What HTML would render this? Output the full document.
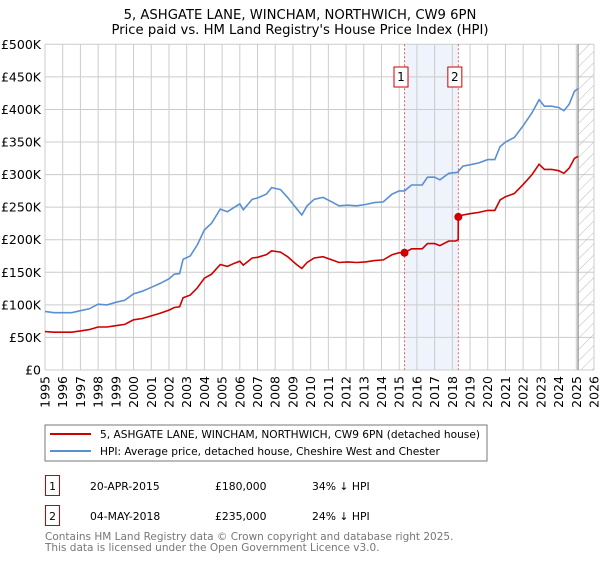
<!DOCTYPE html>
<html><head><meta charset="utf-8"><style>
body{margin:0;background:#fff;font-family:"DejaVu Sans","Liberation Sans",sans-serif}
svg text{font-family:"DejaVu Sans","Liberation Sans",sans-serif}
</style></head><body>
<svg id="c" width="600" height="560" xmlns="http://www.w3.org/2000/svg">
<defs><pattern id="h" width="8" height="8" patternUnits="userSpaceOnUse" patternTransform="rotate(45)"><line x1="0" y1="0" x2="0" y2="8" stroke="#bbb" stroke-width="1"/></pattern></defs>
<text x="300" y="19" text-anchor="middle" font-size="13.2">5, ASHGATE LANE, WINCHAM, NORTHWICH, CW9 6PN</text>
<text x="300" y="34" text-anchor="middle" font-size="13.2">Price paid vs. HM Land Registry's House Price Index (HPI)</text>
<g id="plot"></g>
<rect x="45" y="425" width="442" height="36" fill="none" stroke="#777"/>
<line x1="50" y1="434" x2="91" y2="434" stroke="#cc0000" stroke-width="2"/>
<text x="100" y="438" font-size="10.6">5, ASHGATE LANE, WINCHAM, NORTHWICH, CW9 6PN (detached house)</text>
<line x1="50" y1="451" x2="91" y2="451" stroke="#5b8fd4" stroke-width="2"/>
<text x="100" y="455" font-size="10.6">HPI: Average price, detached house, Cheshire West and Chester</text>
<g font-size="10.8">
<rect x="45.5" y="475.5" width="14" height="20" fill="none" stroke="#cc0000"/><text x="52.5" y="490" text-anchor="middle">1</text>
<text x="90" y="490">20-APR-2015</text><text x="215" y="490">£180,000</text><text x="312" y="490">34% ↓ HPI</text>
<rect x="45.5" y="505.5" width="14" height="20" fill="none" stroke="#cc0000"/><text x="52.5" y="520" text-anchor="middle">2</text>
<text x="90" y="520">04-MAY-2018</text><text x="215" y="520">£235,000</text><text x="312" y="520">24% ↓ HPI</text>
</g>
<text x="45" y="540" font-size="10.5" fill="#777">Contains HM Land Registry data © Crown copyright and database right 2025.</text>
<text x="45" y="551" font-size="10.5" fill="#777">This data is licensed under the Open Government Licence v3.0.</text>
</svg>
<script>
const dates=[1995.0,1995.5,1996.0,1996.5,1997.0,1997.5,1998.0,1998.5,1999.0,1999.5,2000.0,2000.5,2001.0,2001.5,2002.0,2002.3,2002.6,2002.8,2003.2,2003.6,2004.0,2004.4,2004.9,2005.3,2005.7,2006.0,2006.2,2006.7,2007.0,2007.5,2007.8,2008.3,2008.7,2009.2,2009.5,2009.8,2010.2,2010.7,2011.2,2011.6,2012.1,2012.6,2013.1,2013.6,2014.1,2014.6,2015.0,2015.3,2015.7,2016.3,2016.6,2017.0,2017.3,2017.8,2018.2,2018.33,2018.34,2018.6,2019.0,2019.5,2020.0,2020.4,2020.7,2021.0,2021.5,2022.0,2022.5,2022.9,2023.2,2023.6,2024.0,2024.3,2024.6,2024.9,2025.1];
const hpi=[90,88,88,88,91,94,101,100,104,107,117,121,127,133,140,147,148,170,175,192,215,225,247,243,250,255,246,262,264,270,280,277,265,248,238,252,262,265,258,252,253,252,254,257,258,270,275,275,284,284,296,296,292,302,303,304,305,313,315,318,323,323,343,350,357,375,395,415,405,405,403,398,408,428,432];
const price=[59,58,58,58,60,62,66,66,68,70,77,79,83,87,92,96,97,111,115,126,141,147,162,159,164,167,161,172,173,177,183,181,174,162,156,165,172,174,169,165,166,165,166,168,169,177,180,180,186,186,194,194,191,198,198,200,235,238,240,242,245,245,261,266,271,285,300,316,308,308,306,302,310,325,328];
const saleDates=[2015.3,2018.34];
const salePrices=[180,235];
const saleLabels=["1","2"];
const yTicks=[0,50,100,150,200,250,300,350,400,450,500];
const yTickLabels=["£0","£50K","£100K","£150K","£200K","£250K","£300K","£350K","£400K","£450K","£500K"];
const xYears=[1995,1996,1997,1998,1999,2000,2001,2002,2003,2004,2005,2006,2007,2008,2009,2010,2011,2012,2013,2014,2015,2016,2017,2018,2019,2020,2021,2022,2023,2024,2025,2026];
const X0=45,X1=594,Y0=370,Y1=44.3,NS="http://www.w3.org/2000/svg";
const xs=d=>X0+(d-1995)/(2026-1995)*(X1-X0);
const ys=v=>Y0-v/500*(Y0-Y1);
const g=document.getElementById('plot');
function mk(t,a){const e=document.createElementNS(NS,t);for(const k in a)e.setAttribute(k,a[k]);g.appendChild(e);return e;}
let e;
e=mk('rect',{x:xs(saleDates[0]),y:Y1,width:xs(saleDates[1])-xs(saleDates[0]),height:Y0-Y1,fill:'#eef3fc'});


yTicks.forEach((v,i)=>{
 e=mk('line',{x1:X0,x2:X1,y1:ys(v),y2:ys(v),stroke:'#ccc'});
 
 
 e=mk('text',{x:X0-4,y:ys(v)+4.5,'text-anchor':'end','font-size':'12.5'});e.textContent=yTickLabels[i];
 
 
});
xYears.forEach(y=>{
 e=mk('line',{x1:xs(y),x2:xs(y),y1:Y1,y2:Y0,stroke:'#ccc'});
 
 
 e=mk('text',{x:0,y:0,'text-anchor':'end','font-size':'12.5',transform:`translate(${xs(y)+4.5},${Y0+6}) rotate(-90)`});e.textContent=y;
 
 
});
e=mk('rect',{x:xs(2025.1),y:Y1,width:X1-xs(2025.1),height:Y0-Y1,fill:'url(#h)'});


e=mk('line',{x1:xs(2025.1),x2:xs(2025.1),y1:Y1,y2:Y0,stroke:'#888','stroke-width':1.2});


saleDates.forEach((d,i)=>{
 e=mk('line',{x1:xs(d),x2:xs(d),y1:Y1,y2:Y0,stroke:'#f06060','stroke-dasharray':'2,2'});
 
 
 e=mk('rect',{x:xs(d)-10.5,y:67,width:14,height:20,fill:'#fff',stroke:'#cc0000'});
 
 
 e=mk('text',{x:xs(d)-3.5,y:81,'text-anchor':'middle','font-size':'12'});e.textContent=saleLabels[i];
 
 
});
const pts=a=>dates.map((d,i)=>xs(d).toFixed(1)+','+ys(a[i]).toFixed(1)).join(' ');
e=mk('polyline',{points:pts(hpi),fill:'none',stroke:'#5b8fd4','stroke-width':1.6});


e=mk('polyline',{points:pts(price),fill:'none',stroke:'#cc0000','stroke-width':1.6});


saleDates.forEach((d,i)=>{
 e=mk('circle',{cx:xs(d),cy:ys(salePrices[i]),r:4,fill:'#cc0000'});
 
 
});
</script>
</body></html>
